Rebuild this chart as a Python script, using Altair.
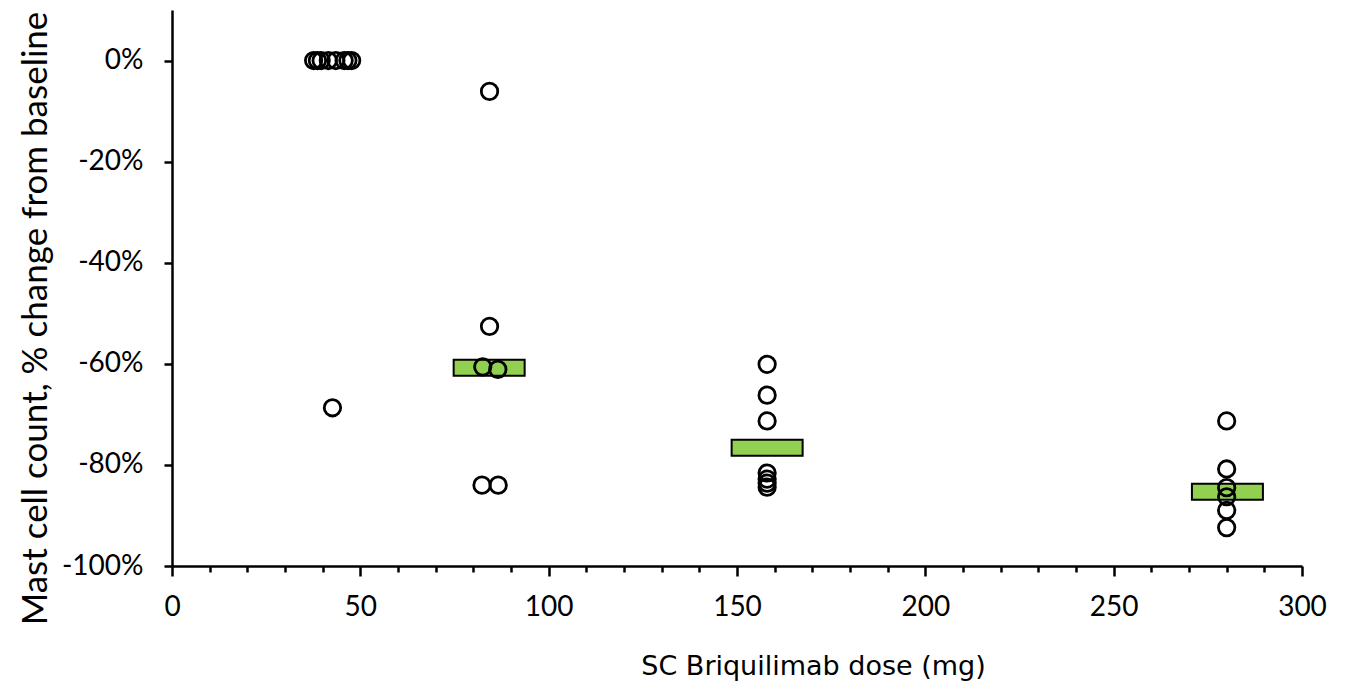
import altair as alt
import pandas as pd

# individual patients: dose (mg) and % change from baseline
dose_pts = [37.6, 38.6, 39.6, 41.5, 43.5, 45.7, 46.7, 47.7, 42.6,
            84.3, 84.3, 82.5, 86.5, 82.3, 86.6,
            158.0, 158.0, 158.0, 158.0, 158.0, 158.0, 158.0,
            280.0, 280.0, 280.0, 280.0, 280.0, 280.0]
pct_pts = [0, 0, 0, 0, 0, 0, 0, 0, -68.7,
           -6.1, -52.6, -60.6, -61.1, -84.0, -84.0,
           -60.1, -66.2, -71.3, -81.6, -82.8, -83.6, -84.4,
           -71.3, -80.8, -84.5, -86.3, -89.0, -92.4]

# group medians
med_dose = [84.2, 158.0, 280.2]
med_pct = [-60.8, -76.6, -85.3]

x_ticks = list(range(0, 301, 10))
y_ticks = [-100, -80, -60, -40, -20, 0]

pts = pd.DataFrame({"dose": dose_pts, "pct": pct_pts})
med = pd.DataFrame({"dose": med_dose, "pct": med_pct})

LABEL_FONT = "Lato"
TITLE_FONT = "DejaVu Sans"

x_enc = alt.X(
    "dose:Q",
    scale=alt.Scale(domain=[0, 300], nice=False, zero=False),
    axis=alt.Axis(
        values=x_ticks,
        tickCount=len(x_ticks) + 5,
        title="SC Briquilimab dose (mg)",
        labelExpr="datum.value % 50 === 0 ? datum.label : ''",
        labelOverlap=False,
        labelFlush=False,
        tickSize={"condition": {"test": "datum.value % 50 === 0", "value": 10}, "value": 6},
        labelPadding=17,
        labelFontSize=28,
        labelFont=LABEL_FONT,
        titleFont=TITLE_FONT,
        titleFontSize=27,
        titleFontWeight="normal",
        titleX=641,
        titleY=108,
        titleAlign="center",
        titleBaseline="alphabetic",
    ),
)
y_enc = alt.Y(
    "pct:Q",
    scale=alt.Scale(domain=[-100, 10], nice=False, zero=False),
    axis=alt.Axis(
        values=y_ticks,
        tickCount=len(y_ticks) + 2,
        title="Mast cell count, % change from baseline",
        labelExpr="datum.value + '%'",
        labelFlush=False,
        tickSize=8,
        labelPadding=21,
        labelFontSize=28,
        labelFont=LABEL_FONT,
        titleFont=LABEL_FONT,
        titleFontSize=35,
        titleFontWeight="normal",
        titleX=-137,
        titleY=308,
        titleAngle=270,
        titleAlign="center",
        titleBaseline="middle",
    ),
)

bars = alt.Chart(med).mark_tick(
    orient="horizontal", size=71, thickness=16, color="#92D050",
    stroke="black", strokeWidth=2, opacity=1
).encode(x=x_enc, y=y_enc)

dots = alt.Chart(pts).mark_point(
    shape="circle", filled=False, size=270, strokeWidth=2.8,
    color="black", opacity=1
).encode(x="dose:Q", y="pct:Q")

chart = alt.layer(bars, dots).properties(
    width=1130,
    height=556,
    autosize=alt.AutoSizeParams(type="none"),
    padding={"left": 164, "top": 2, "right": 39, "bottom": 116},
).configure_view(stroke=None).configure_axis(
    grid=False,
    domainColor="black",
    domainWidth=2.5,
    tickColor="black",
    tickWidth=2.5,
    labelColor="black",
    titleColor="black",
)

chart.save("out.html", embed_options={"renderer": "svg", "actions": False})
